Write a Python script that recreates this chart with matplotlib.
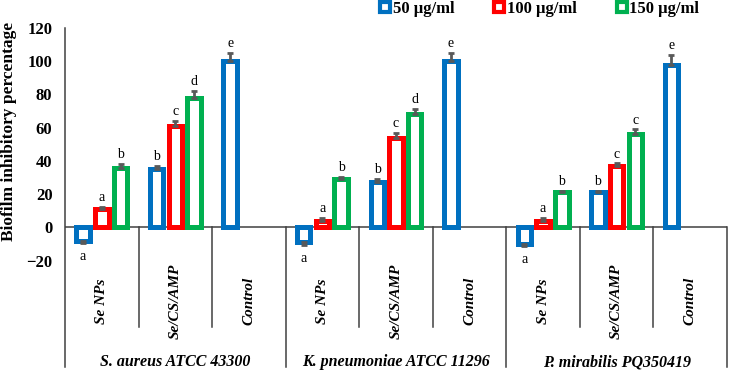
import matplotlib
matplotlib.use('Agg')
import matplotlib.pyplot as plt
import numpy as np
from matplotlib.lines import Line2D

plt.rcParams['font.family'] = ['Liberation Serif', 'DejaVu Serif']

# data
strains = ['S. aureus ATCC 43300', 'K. pneumoniae ATCC 11296', 'P. mirabilis PQ350419']
treatments = ['Se NPs', 'Se/CS/AMP', 'Control']
doses = ['50 µg/ml', '100 µg/ml', '150 µg/ml']
colors = ['#0070C0', '#FF0000', '#00B050']

# one row per category (strain x treatment), columns = doses
values = np.array([
    [-8, 11, 36], [35, 61, 78], [100, np.nan, np.nan],
    [-9, 4, 29], [27.5, 54, 68], [100, np.nan, np.nan],
    [-10, 4, 21], [21, 37, 56.5], [98, np.nan, np.nan],
])
errors = np.array([
    [1.5, 1.5, 2], [2, 3, 4], [5, 0, 0],
    [1.5, 1.5, 1.5], [1.5, 3, 3.5], [5, 0, 0],
    [1.5, 1.5, 1], [1, 1.5, 2.5], [6, 0, 0],
])
letters = [
    ['a', 'a', 'b'], ['b', 'c', 'd'], ['e', '', ''],
    ['a', 'a', 'b'], ['b', 'c', 'd'], ['e', '', ''],
    ['a', 'a', 'b'], ['b', 'c', 'c'], ['e', '', ''],
]

W, H = 730, 372
fig = plt.figure(figsize=(W / 100, H / 100), dpi=100)
ax = fig.add_axes([65 / W, 111.4 / H, 662 / W, 232.6 / H])

x = np.arange(len(values))
offsets = [-0.255, 0, 0.255]
bw = 0.183
for j in range(3):
    v = values[:, j]
    ok = ~np.isnan(v)
    ax.bar(x[ok] + offsets[j], v[ok], width=bw, facecolor='white',
           edgecolor=colors[j], linewidth=3.6, zorder=3, label=doses[j])
    e = errors[ok, j]
    lo = np.where(v[ok] < 0, e, 0)
    hi = np.where(v[ok] < 0, 0, e)
    ax.errorbar(x[ok] + offsets[j], v[ok], yerr=[lo, hi], fmt='none',
                ecolor='#595959', elinewidth=2, capsize=2.2, capthick=2, zorder=4)
    for xi, vi, ei, lab in zip(x[ok], v[ok], e, np.array(letters)[ok, j]):
        if vi >= 0:
            ax.annotate(lab, (xi + offsets[j], vi + ei), xytext=(0, 2),
                        textcoords='offset points', ha='center', va='bottom', fontsize=10)
        else:
            ax.annotate(lab, (xi + offsets[j], vi - ei), xytext=(0, -5),
                        textcoords='offset points', ha='center', va='top', fontsize=10)

ax.set_xlim(-0.5, len(values) - 0.5)
ax.set_ylim(-20, 120)
ax.set_yticks(np.arange(-20, 121, 20))
ax.tick_params(axis='y', length=0, pad=9, labelsize=12)
for t in ax.get_yticklabels():
    t.set_fontweight('bold')
ax.set_xticks([])
for s in ax.spines.values():
    s.set_visible(False)

line_c = '#404040'
ax.axhline(0, color=line_c, lw=1.1, zorder=2)
tr = ax.get_xaxis_transform()
y0 = 20 / 140
ax.plot([-0.5, -0.5], [1.0, -0.457], color=line_c, lw=1.1, transform=tr, clip_on=False)
for b in [2.5, 5.5, 8.5]:
    ax.plot([b, b], [y0, -0.457], color=line_c, lw=1.1, transform=tr, clip_on=False)
for b in [0.5, 1.5, 3.5, 4.5, 6.5, 7.5]:
    ax.plot([b, b], [y0, -0.285], color=line_c, lw=1.1, transform=tr, clip_on=False)

for i in range(len(values)):
    ax.text(x[i], -0.174, treatments[i % 3], transform=tr, rotation=90,
            ha='center', va='center', fontsize=11, fontweight='bold', style='italic')
for g, name in enumerate(strains):
    ax.text(3 * g + 1, -0.436, name, transform=tr, ha='center', va='center',
            fontsize=11.5, fontweight='bold', style='italic')

fig.text(9 / W, 1 - 131.5 / H, 'Biofilm inhibitory percentage', rotation=90,
         ha='center', va='center', fontsize=12.5, fontweight='bold')

handles = [Line2D([], [], marker='s', linestyle='none', markerfacecolor='white',
                  markeredgecolor=c, markeredgewidth=3, markersize=7) for c in colors]
fig.legend(handles, doses, loc='center left', bbox_to_anchor=(372 / W, 1 - 9 / H),
           ncol=3, frameon=False, handlelength=0.6, handletextpad=0.15,
           columnspacing=2.4, prop={'weight': 'bold', 'size': 12}, borderpad=0)

fig.savefig('out.png', dpi=100)
